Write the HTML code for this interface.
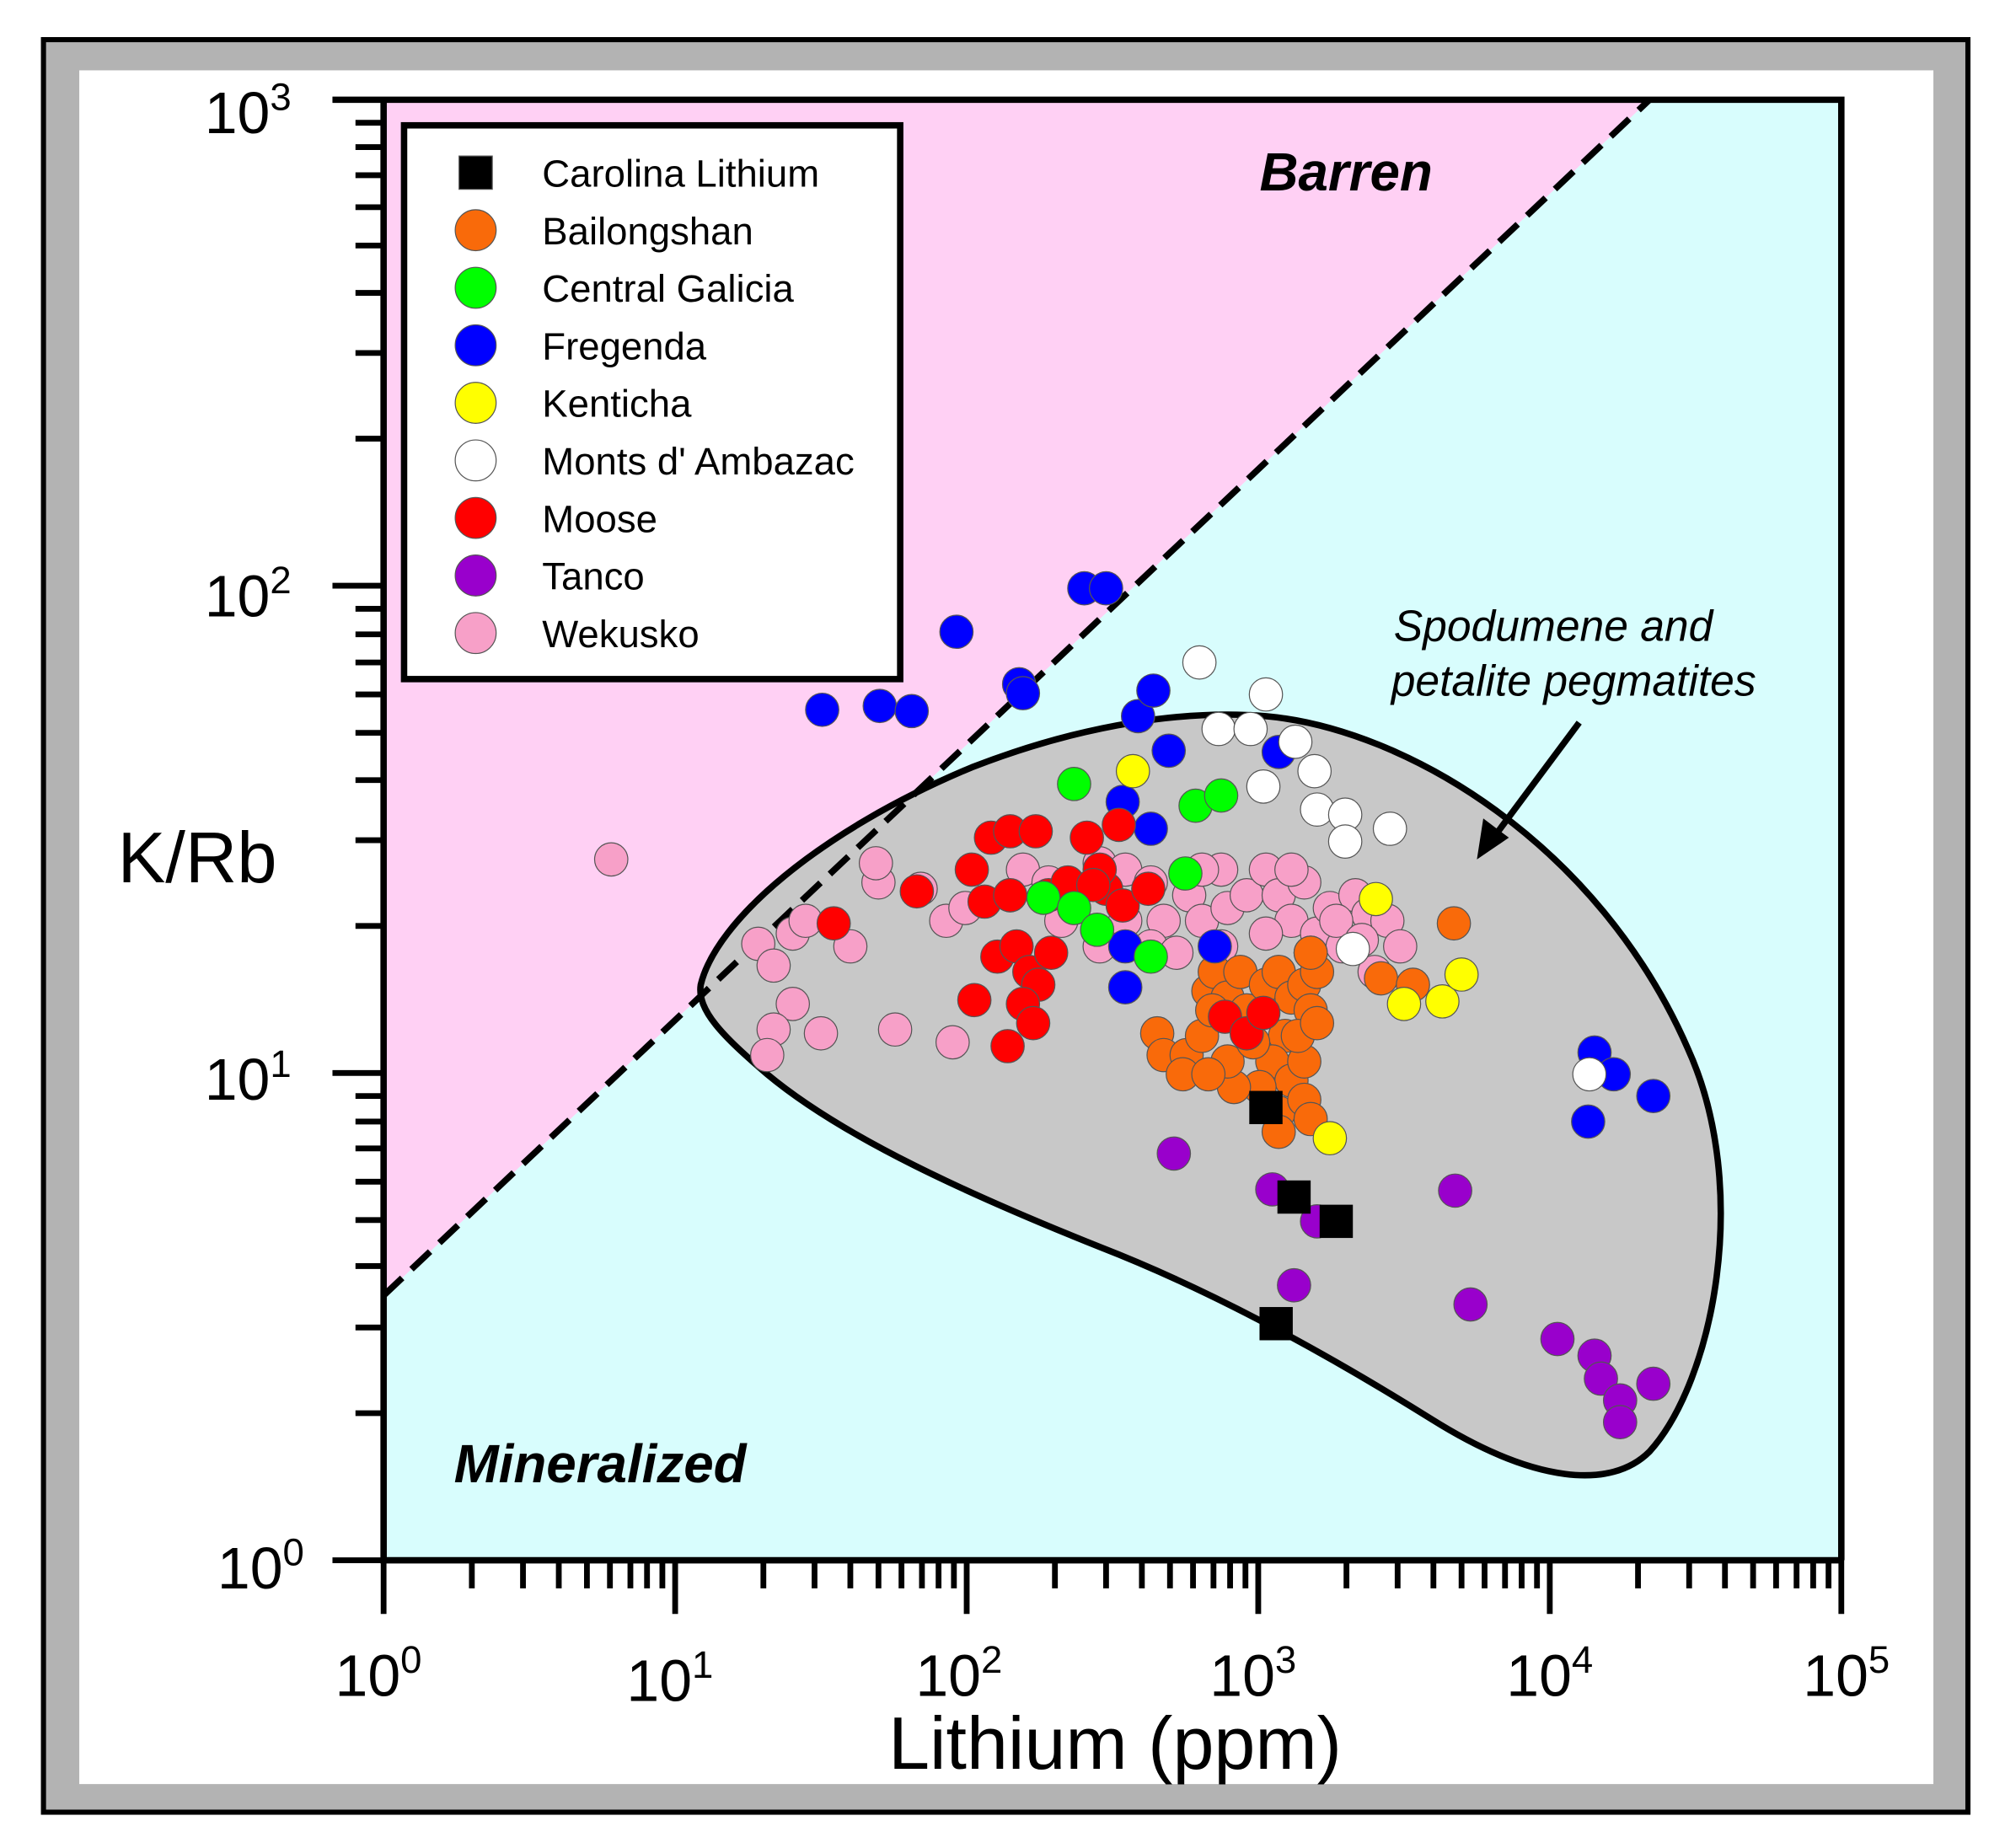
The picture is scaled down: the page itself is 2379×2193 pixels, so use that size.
<!DOCTYPE html>
<html><head><meta charset="utf-8"><style>html,body{margin:0;padding:0;background:#fff}svg{display:block}</style></head><body>
<svg width="2379" height="2193" viewBox="0 0 1568 1445" preserveAspectRatio="none" xmlns="http://www.w3.org/2000/svg" font-family="Liberation Sans, Arial, sans-serif">
<rect x="0" y="0" width="1568" height="1445" fill="#fff"/>
<rect x="34" y="31" width="1505" height="1386" fill="#b3b3b3" stroke="#000" stroke-width="4"/>
<rect x="62" y="55" width="1450" height="1340" fill="#fff"/>
<polygon points="300,78 1290,78 300,1013" fill="#ffd0f4"/>
<polygon points="1290,78 1440,78 1440,1220 300,1220 300,1013" fill="#d8fdfd"/>
<path d="M548,770 C560,720 640,650 760,600 C850,565 930,555 990,560 C1100,570 1250,660 1320,820 C1370,930 1340,1080 1290,1135 C1260,1165 1200,1160 1120,1110 C1040,1060 950,1010 860,975 C760,935 660,890 600,840 C565,810 545,790 548,770 Z" fill="#c8c8c8" stroke="#000" stroke-width="5"/>
<line x1="300" y1="1013" x2="1290" y2="78" stroke="#000" stroke-width="5" stroke-dasharray="20,10"/>
<g stroke="#555" stroke-width="0.8">
<g fill="#f7a0c8">
<circle cx="478" cy="672" r="13"/><circle cx="593" cy="738" r="13"/><circle cx="620" cy="730" r="13"/><circle cx="630" cy="720" r="13"/><circle cx="605" cy="755" r="13"/><circle cx="620" cy="785" r="13"/><circle cx="605" cy="805" r="13"/><circle cx="600" cy="825" r="13"/><circle cx="642" cy="808" r="13"/><circle cx="665" cy="740" r="13"/><circle cx="687" cy="690" r="13"/><circle cx="685" cy="675" r="13"/><circle cx="720" cy="695" r="13"/><circle cx="740" cy="720" r="13"/><circle cx="755" cy="710" r="13"/><circle cx="700" cy="805" r="13"/><circle cx="745" cy="815" r="13"/><circle cx="790" cy="700" r="13"/><circle cx="800" cy="680" r="13"/><circle cx="820" cy="690" r="13"/><circle cx="840" cy="700" r="13"/><circle cx="860" cy="675" r="13"/><circle cx="880" cy="680" r="13"/><circle cx="900" cy="690" r="13"/><circle cx="910" cy="720" r="13"/><circle cx="930" cy="700" r="13"/><circle cx="940" cy="720" r="13"/><circle cx="955" cy="680" r="13"/><circle cx="960" cy="710" r="13"/><circle cx="975" cy="700" r="13"/><circle cx="990" cy="680" r="13"/><circle cx="1000" cy="700" r="13"/><circle cx="1010" cy="720" r="13"/><circle cx="1020" cy="690" r="13"/><circle cx="1030" cy="730" r="13"/><circle cx="1040" cy="710" r="13"/><circle cx="1050" cy="740" r="13"/><circle cx="1060" cy="700" r="13"/><circle cx="1070" cy="715" r="13"/><circle cx="1085" cy="720" r="13"/><circle cx="1095" cy="740" r="13"/><circle cx="1075" cy="760" r="13"/><circle cx="1000" cy="760" r="13"/><circle cx="970" cy="760" r="13"/><circle cx="990" cy="730" r="13"/><circle cx="880" cy="720" r="13"/><circle cx="900" cy="740" r="13"/><circle cx="920" cy="745" r="13"/><circle cx="860" cy="740" r="13"/><circle cx="830" cy="720" r="13"/><circle cx="1010" cy="680" r="13"/><circle cx="940" cy="680" r="13"/><circle cx="955" cy="740" r="13"/><circle cx="1025" cy="745" r="13"/><circle cx="1045" cy="720" r="13"/><circle cx="1065" cy="735" r="13"/>
</g>
<g fill="#f96a0a">
<circle cx="905" cy="808" r="13"/><circle cx="910" cy="825" r="13"/><circle cx="928" cy="825" r="13"/><circle cx="940" cy="810" r="13"/><circle cx="925" cy="840" r="13"/><circle cx="945" cy="775" r="13"/><circle cx="950" cy="760" r="13"/><circle cx="960" cy="780" r="13"/><circle cx="970" cy="760" r="13"/><circle cx="975" cy="790" r="13"/><circle cx="990" cy="770" r="13"/><circle cx="1000" cy="760" r="13"/><circle cx="1010" cy="780" r="13"/><circle cx="1020" cy="770" r="13"/><circle cx="1030" cy="760" r="13"/><circle cx="1025" cy="790" r="13"/><circle cx="1005" cy="810" r="13"/><circle cx="995" cy="830" r="13"/><circle cx="1010" cy="845" r="13"/><circle cx="985" cy="850" r="13"/><circle cx="965" cy="850" r="13"/><circle cx="960" cy="830" r="13"/><circle cx="945" cy="840" r="13"/><circle cx="980" cy="815" r="13"/><circle cx="1020" cy="830" r="13"/><circle cx="1000" cy="870" r="13"/><circle cx="1020" cy="860" r="13"/><circle cx="1025" cy="875" r="13"/><circle cx="1000" cy="885" r="13"/><circle cx="1015" cy="810" r="13"/><circle cx="1030" cy="800" r="13"/><circle cx="1025" cy="745" r="13"/><circle cx="1080" cy="765" r="13"/><circle cx="1105" cy="770" r="13"/><circle cx="1137" cy="722" r="13"/><circle cx="948" cy="790" r="13"/>
</g>
<g fill="#00f">
<circle cx="643" cy="555" r="13"/><circle cx="688" cy="552" r="13"/><circle cx="713" cy="556" r="13"/><circle cx="748" cy="494" r="13"/><circle cx="797" cy="535" r="13"/><circle cx="800" cy="542" r="13"/><circle cx="848" cy="460" r="13"/><circle cx="865" cy="460" r="13"/><circle cx="890" cy="560" r="13"/><circle cx="902" cy="540" r="13"/><circle cx="914" cy="587" r="13"/><circle cx="878" cy="627" r="13"/><circle cx="900" cy="648" r="13"/><circle cx="880" cy="772" r="13"/><circle cx="880" cy="740" r="13"/><circle cx="1000" cy="588" r="13"/><circle cx="950" cy="740" r="13"/><circle cx="1247" cy="823" r="13"/><circle cx="1262" cy="840" r="13"/><circle cx="1293" cy="857" r="13"/><circle cx="1242" cy="877" r="13"/>
</g>
<g fill="#f00">
<circle cx="652" cy="722" r="13"/><circle cx="717" cy="697" r="13"/><circle cx="760" cy="680" r="13"/><circle cx="775" cy="655" r="13"/><circle cx="790" cy="650" r="13"/><circle cx="770" cy="705" r="13"/><circle cx="790" cy="700" r="13"/><circle cx="780" cy="748" r="13"/><circle cx="795" cy="740" r="13"/><circle cx="810" cy="650" r="13"/><circle cx="820" cy="700" r="13"/><circle cx="805" cy="760" r="13"/><circle cx="812" cy="770" r="13"/><circle cx="800" cy="785" r="13"/><circle cx="808" cy="800" r="13"/><circle cx="822" cy="745" r="13"/><circle cx="835" cy="690" r="13"/><circle cx="850" cy="655" r="13"/><circle cx="865" cy="695" r="13"/><circle cx="878" cy="708" r="13"/><circle cx="875" cy="645" r="13"/><circle cx="898" cy="695" r="13"/><circle cx="762" cy="782" r="13"/><circle cx="788" cy="818" r="13"/><circle cx="958" cy="795" r="13"/><circle cx="975" cy="808" r="13"/><circle cx="988" cy="792" r="13"/><circle cx="860" cy="680" r="13"/><circle cx="855" cy="692" r="13"/>
</g>
<g fill="#0f0">
<circle cx="840" cy="613" r="13"/><circle cx="935" cy="630" r="13"/><circle cx="955" cy="622" r="13"/><circle cx="927" cy="683" r="13"/><circle cx="816" cy="702" r="13"/><circle cx="840" cy="710" r="13"/><circle cx="858" cy="727" r="13"/><circle cx="900" cy="748" r="13"/>
</g>
<g fill="#ff0">
<circle cx="886" cy="603" r="13"/><circle cx="1076" cy="703" r="13"/><circle cx="1098" cy="785" r="13"/><circle cx="1128" cy="783" r="13"/><circle cx="1143" cy="762" r="13"/><circle cx="1040" cy="890" r="13"/>
</g>
<g fill="#fff">
<circle cx="938" cy="518" r="13"/><circle cx="990" cy="543" r="13"/><circle cx="953" cy="570" r="13"/><circle cx="978" cy="570" r="13"/><circle cx="1013" cy="580" r="13"/><circle cx="1028" cy="603" r="13"/><circle cx="988" cy="615" r="13"/><circle cx="1030" cy="633" r="13"/><circle cx="1052" cy="637" r="13"/><circle cx="1052" cy="658" r="13"/><circle cx="1087" cy="648" r="13"/><circle cx="1058" cy="742" r="13"/><circle cx="1243" cy="840" r="13"/>
</g>
<g fill="#9900cc">
<circle cx="918" cy="902" r="13"/><circle cx="995" cy="930" r="13"/><circle cx="1012" cy="1005" r="13"/><circle cx="1030" cy="955" r="13"/><circle cx="1138" cy="931" r="13"/><circle cx="1150" cy="1020" r="13"/><circle cx="1218" cy="1047" r="13"/><circle cx="1247" cy="1060" r="13"/><circle cx="1252" cy="1078" r="13"/><circle cx="1267" cy="1095" r="13"/><circle cx="1267" cy="1112" r="13"/><circle cx="1293" cy="1082" r="13"/>
</g>
</g>
<g fill="#000">
<rect x="977" y="853" width="26" height="26"/><rect x="999" y="923" width="26" height="26"/><rect x="1032" y="942" width="26" height="26"/><rect x="985" y="1022" width="26" height="26"/>
</g>
<line x1="1235" y1="565" x2="1168" y2="655" stroke="#000" stroke-width="5"/>
<polygon points="1155,672 1160,640 1180,655" fill="#000"/>
<path d="M260,78 H1440 V1220 M300,78 V1220 H1440" fill="none" stroke="#000" stroke-width="5"/>
<g stroke="#000" stroke-width="4.5">
<path d="M260,78H300 M260,458H300 M260,839H300 M260,1220H300"/>
<path d="M278,1105H300 M278,1038H300 M278,990H300 M278,954H300 M278,924H300 M278,898H300 M278,877H300 M278,857H300
M278,724H300 M278,657H300 M278,610H300 M278,573H300 M278,543H300 M278,518H300 M278,496H300 M278,476H300
M278,343H300 M278,276H300 M278,229H300 M278,192H300 M278,162H300 M278,137H300 M278,115H300 M278,96H300"/>
<path d="M300,1220V1262 M528,1220V1262 M756,1220V1262 M984,1220V1262 M1212,1220V1262 M1440,1220V1262"/>
<path d="M369,1220V1242 M409,1220V1242 M437,1220V1242 M459,1220V1242 M477,1220V1242 M493,1220V1242 M506,1220V1242 M518,1220V1242
M597,1220V1242 M637,1220V1242 M665,1220V1242 M687,1220V1242 M705,1220V1242 M721,1220V1242 M734,1220V1242 M746,1220V1242
M825,1220V1242 M865,1220V1242 M893,1220V1242 M915,1220V1242 M933,1220V1242 M949,1220V1242 M962,1220V1242 M974,1220V1242
M1053,1220V1242 M1093,1220V1242 M1121,1220V1242 M1143,1220V1242 M1161,1220V1242 M1177,1220V1242 M1190,1220V1242 M1202,1220V1242
M1281,1220V1242 M1321,1220V1242 M1349,1220V1242 M1371,1220V1242 M1389,1220V1242 M1405,1220V1242 M1418,1220V1242 M1430,1220V1242"/>
</g>
<g font-size="46" fill="#000">
<text x="160" y="104">10<tspan font-size="30" dy="-18">3</tspan></text>
<text x="160" y="482">10<tspan font-size="30" dy="-18">2</tspan></text>
<text x="160" y="860">10<tspan font-size="30" dy="-18">1</tspan></text>
<text x="170" y="1242">10<tspan font-size="30" dy="-18">0</tspan></text>
<text x="262" y="1326">10<tspan font-size="30" dy="-18">0</tspan></text>
<text x="490" y="1330">10<tspan font-size="30" dy="-18">1</tspan></text>
<text x="716" y="1326">10<tspan font-size="30" dy="-18">2</tspan></text>
<text x="946" y="1326">10<tspan font-size="30" dy="-18">3</tspan></text>
<text x="1178" y="1326">10<tspan font-size="30" dy="-18">4</tspan></text>
<text x="1410" y="1326">10<tspan font-size="30" dy="-18">5</tspan></text>
</g>
<text x="92" y="690" font-size="56">K/Rb</text>
<text x="872" y="1383" font-size="58" text-anchor="middle">Lithium (ppm)</text>
<text x="985" y="149" font-size="42" font-weight="bold" font-style="italic">Barren</text>
<text x="355" y="1159" font-size="42" font-weight="bold" font-style="italic">Mineralized</text>
<text x="1090" y="501" font-size="34" font-style="italic">Spodumene and</text>
<text x="1088" y="544" font-size="34" font-style="italic">petalite pegmatites</text>
<rect x="316" y="98" width="388" height="433" fill="#fff" stroke="#000" stroke-width="5"/>
<g stroke="#555" stroke-width="0.8">
<rect x="359" y="122" width="26" height="26" fill="#000"/>
<circle cx="372" cy="180" r="16" fill="#f96a0a"/>
<circle cx="372" cy="225" r="16" fill="#0f0"/>
<circle cx="372" cy="270" r="16" fill="#00f"/>
<circle cx="372" cy="315" r="16" fill="#ff0"/>
<circle cx="372" cy="360" r="16" fill="#fff"/>
<circle cx="372" cy="405" r="16" fill="#f00"/>
<circle cx="372" cy="450" r="16" fill="#9900cc"/>
<circle cx="372" cy="495" r="16" fill="#f7a0c8"/>
</g>
<g font-size="30" fill="#000">
<text x="424" y="146">Carolina Lithium</text>
<text x="424" y="191">Bailongshan</text>
<text x="424" y="236">Central Galicia</text>
<text x="424" y="281">Fregenda</text>
<text x="424" y="326">Kenticha</text>
<text x="424" y="371">Monts d' Ambazac</text>
<text x="424" y="416">Moose</text>
<text x="424" y="461">Tanco</text>
<text x="424" y="506">Wekusko</text>
</g>
</svg>
</body></html>
